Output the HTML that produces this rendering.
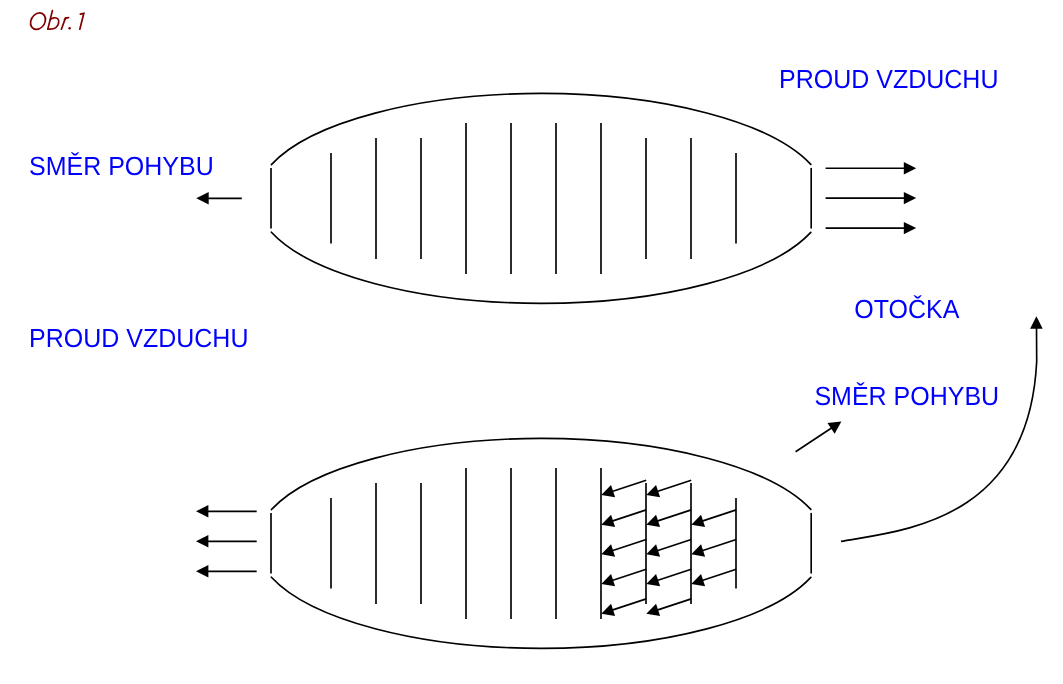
<!DOCTYPE html>
<html><head><meta charset="utf-8"><style>
html,body{margin:0;padding:0;background:#fff;width:1063px;height:684px;overflow:hidden}
svg{display:block;will-change:transform}
.b{text-rendering:geometricPrecision;font-family:"Liberation Sans",sans-serif;font-size:25px;fill:#0000ff}
.arc{stroke-linecap:round}
</style></head><body>
<svg width="1063" height="684" viewBox="0 0 1063 684">
<g stroke="#000" stroke-width="1.65" fill="none"><path class="arc" d="M271.4,164.58 A285.0,104.95 0 0 1 810.8,164.37"/><path class="arc" d="M271.4,232.22 A285.0,104.95 0 0 0 810.8,232.43"/><line x1="271.0" y1="167.9" x2="271.0" y2="228.5"/><line x1="811.2" y1="167.9" x2="811.2" y2="228.5"/><path class="arc" d="M271.4,509.58 A285.0,104.95 0 0 1 810.8,509.37"/><path class="arc" d="M271.4,577.22 A285.0,104.95 0 0 0 810.8,577.43"/><line x1="271.0" y1="512.9" x2="271.0" y2="573.5"/><line x1="811.2" y1="512.9" x2="811.2" y2="573.5"/><line x1="331" y1="153" x2="331" y2="243.5"/><line x1="331" y1="498" x2="331" y2="588.5"/><line x1="376" y1="138" x2="376" y2="259"/><line x1="376" y1="483" x2="376" y2="604"/><line x1="421" y1="138" x2="421" y2="259"/><line x1="421" y1="483" x2="421" y2="604"/><line x1="466" y1="123" x2="466" y2="274"/><line x1="466" y1="468" x2="466" y2="619"/><line x1="511" y1="123" x2="511" y2="274"/><line x1="511" y1="468" x2="511" y2="619"/><line x1="556" y1="123" x2="556" y2="274"/><line x1="556" y1="468" x2="556" y2="619"/><line x1="601" y1="123" x2="601" y2="274"/><line x1="601" y1="468" x2="601" y2="619"/><line x1="646" y1="138" x2="646" y2="259"/><line x1="646" y1="483" x2="646" y2="604"/><line x1="691" y1="138" x2="691" y2="259"/><line x1="691" y1="483" x2="691" y2="604"/><line x1="736" y1="153" x2="736" y2="243.5"/><line x1="736" y1="498" x2="736" y2="588.5"/><line x1="241.80" y1="198.30" x2="207.70" y2="198.30"/><polygon points="196.30,198.30 208.70,192.10 208.70,204.50" stroke="none" fill="#000"/><line x1="825.60" y1="168.20" x2="904.80" y2="168.20"/><polygon points="916.20,168.20 903.80,174.40 903.80,162.00" stroke="none" fill="#000"/><line x1="825.60" y1="198.10" x2="904.80" y2="198.10"/><polygon points="916.20,198.10 903.80,204.30 903.80,191.90" stroke="none" fill="#000"/><line x1="825.60" y1="228.10" x2="904.80" y2="228.10"/><polygon points="916.20,228.10 903.80,234.30 903.80,221.90" stroke="none" fill="#000"/><line x1="256.70" y1="511.30" x2="207.40" y2="511.30"/><polygon points="196.00,511.30 208.40,505.10 208.40,517.50" stroke="none" fill="#000"/><line x1="256.70" y1="541.30" x2="207.40" y2="541.30"/><polygon points="196.00,541.30 208.40,535.10 208.40,547.50" stroke="none" fill="#000"/><line x1="256.70" y1="571.30" x2="207.40" y2="571.30"/><polygon points="196.00,571.30 208.40,565.10 208.40,577.50" stroke="none" fill="#000"/><line x1="795.60" y1="451.75" x2="831.89" y2="427.78"/><polygon points="841.40,421.50 834.64,433.76 827.47,422.91" stroke="none" fill="#000"/><path d="M841,541.4 C902.14,530.50 1028.72,521.90 1036.7,361.5 L1036.5,328"/><polygon points="1036.4,316.3 1030.1,328.7 1042.7,328.7" stroke="none" fill="#000"/><line x1="646.20" y1="480.20" x2="612.13" y2="491.43"/><polygon points="601.30,495.00 611.04,484.94 615.11,497.29" stroke="none" fill="#000"/><line x1="646.20" y1="509.90" x2="612.13" y2="521.13"/><polygon points="601.30,524.70 611.04,514.64 615.11,526.99" stroke="none" fill="#000"/><line x1="646.20" y1="539.55" x2="612.13" y2="550.78"/><polygon points="601.30,554.35 611.04,544.29 615.11,556.64" stroke="none" fill="#000"/><line x1="646.20" y1="569.20" x2="612.13" y2="580.43"/><polygon points="601.30,584.00 611.04,573.94 615.11,586.29" stroke="none" fill="#000"/><line x1="646.20" y1="598.90" x2="612.13" y2="610.13"/><polygon points="601.30,613.70 611.04,603.64 615.11,615.99" stroke="none" fill="#000"/><line x1="691.20" y1="480.20" x2="657.13" y2="491.43"/><polygon points="646.30,495.00 656.04,484.94 660.11,497.29" stroke="none" fill="#000"/><line x1="691.20" y1="509.90" x2="657.13" y2="521.13"/><polygon points="646.30,524.70 656.04,514.64 660.11,526.99" stroke="none" fill="#000"/><line x1="691.20" y1="539.55" x2="657.13" y2="550.78"/><polygon points="646.30,554.35 656.04,544.29 660.11,556.64" stroke="none" fill="#000"/><line x1="691.20" y1="569.20" x2="657.13" y2="580.43"/><polygon points="646.30,584.00 656.04,573.94 660.11,586.29" stroke="none" fill="#000"/><line x1="691.20" y1="598.90" x2="657.13" y2="610.13"/><polygon points="646.30,613.70 656.04,603.64 660.11,615.99" stroke="none" fill="#000"/><line x1="736.20" y1="509.90" x2="702.13" y2="521.13"/><polygon points="691.30,524.70 701.04,514.64 705.11,526.99" stroke="none" fill="#000"/><line x1="736.20" y1="539.55" x2="702.13" y2="550.78"/><polygon points="691.30,554.35 701.04,544.29 705.11,556.64" stroke="none" fill="#000"/><line x1="736.20" y1="569.20" x2="702.13" y2="580.43"/><polygon points="691.30,584.00 701.04,573.94 705.11,586.29" stroke="none" fill="#000"/></g>
<g stroke="#800000" stroke-width="1.7" fill="none" stroke-linecap="round">
<ellipse cx="0" cy="0" rx="7.3" ry="8.25" transform="translate(38,21.15) skewX(-11)"/>
<path d="M52.4,10.6 L47.8,29.2"/>
<path d="M50.2,19.6 C52,17.6 55.5,17.2 57.6,18.6 C59.8,20.4 58.8,25.2 55.8,27.6 C53.6,29.3 50.6,29.3 47.9,29.0"/>
<path d="M65.5,17.9 L61.4,29.2"/>
<path d="M64.5,19.6 C65.5,18.3 66.9,17.6 68.6,17.7"/>
<path d="M80.4,14.2 L83.8,13.4 L79.8,29.2"/>
</g>
<circle cx="69.6" cy="28.3" r="1.25" fill="#800000"/>
<text transform="translate(29,174.5) scale(1,1.045)" class="b">SMĚR POHYBU</text>
<text transform="translate(779,88.2) scale(1,1.045)" class="b">PROUD VZDUCHU</text>
<text transform="translate(854.2,318.2) scale(1,1.045)" class="b">OTOČKA</text>
<text transform="translate(29,347.1) scale(1,1.045)" class="b">PROUD VZDUCHU</text>
<text transform="translate(814.4,404.5) scale(1,1.045)" class="b">SMĚR POHYBU</text>

</svg>
</body></html>
